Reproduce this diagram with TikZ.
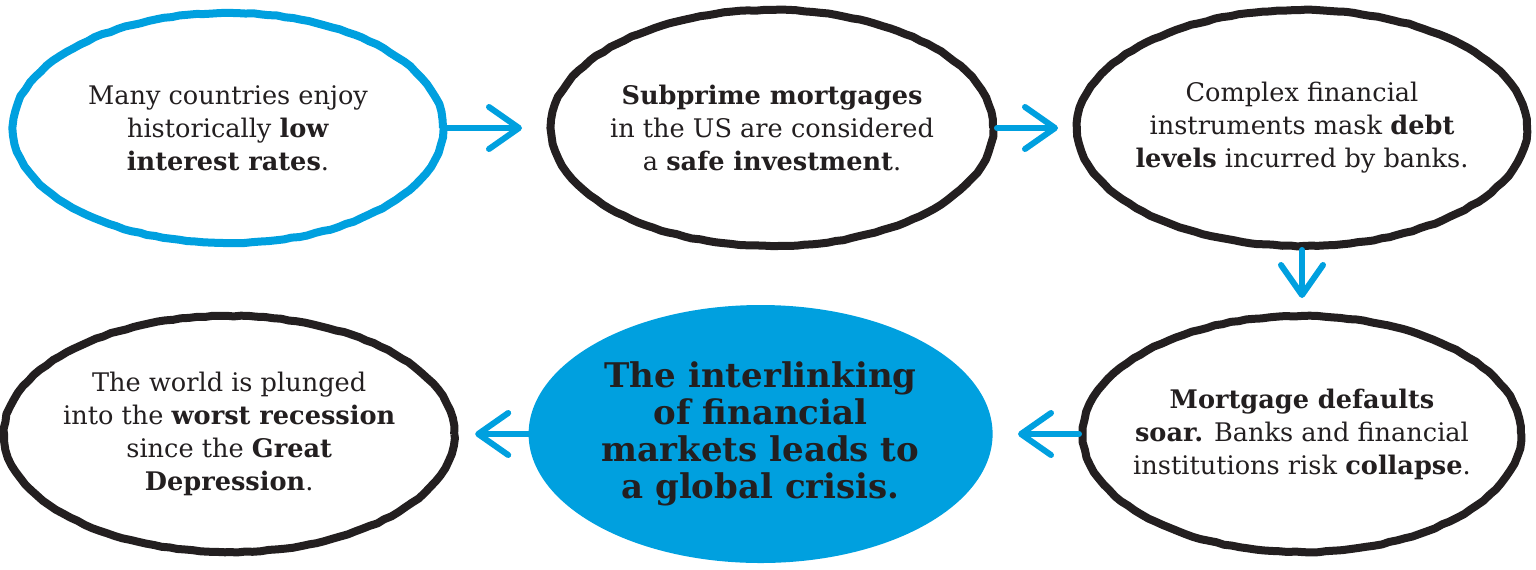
\documentclass[tikz,border=0pt]{standalone}
\usepackage{fontspec}
\setmainfont{DejaVu Serif}
\usetikzlibrary{arrows.meta, positioning, shapes.geometric, decorations.pathmorphing}
\definecolor{crisisblue}{RGB}{0,160,223}
\definecolor{inkblack}{RGB}{35,31,32}

\begin{document}
\begin{tikzpicture}[
  node distance=31pt and 50pt,
  bubble/.style={ellipse, draw=inkblack, line width=4pt, inner sep=-12pt, align=center,
    text=inkblack, font=\fontsize{12.8}{16.5}\selectfont, line join=round,
    decorate, decoration={random steps, segment length=4pt, amplitude=0.25pt}},
  hub/.style={ellipse, fill=crisisblue, inner sep=0pt, align=center, text=inkblack,
    font=\bfseries\fontsize{17}{18.5}\selectfont},
  arr/.style={-{Straight Barb[length=15pt, width=21pt, round]}, line width=3pt,
    crisisblue, line cap=round},
]
  \useasboundingbox (0,0) rectangle (768pt,-284.5pt);

  % top row
  \node[bubble, draw=crisisblue, minimum width=215pt, minimum height=115pt] (rates) at (114pt,-64pt)
    {Many countries enjoy\\historically \textbf{low}\\\textbf{interest rates}.};
  \node[bubble, minimum width=221pt, minimum height=118pt, right=50pt of rates] (subprime)
    {\textbf{Subprime mortgages}\\in the US are considered\\a \textbf{safe investment}.};
  \node[bubble, minimum width=225pt, minimum height=118pt, right=38pt of subprime] (debt)
    {Complex financial\\instruments mask \textbf{debt}\\\textbf{levels} incurred by banks.};

  % bottom row
  \node[bubble, minimum width=219pt, minimum height=118pt, below=31pt of debt] (defaults)
    {\textbf{Mortgage defaults}\\\textbf{soar.} Banks and financial\\institutions risk \textbf{collapse}.};
  \node[hub, minimum width=232pt, minimum height=129pt, left=43pt of defaults] (crisis)
    {The interlinking\\of financial\\markets leads to\\a global crisis.};
  \node[bubble, minimum width=225pt, minimum height=118pt, left=35pt of crisis] (recession)
    {The world is plunged\\into the \textbf{worst recession}\\since the \textbf{Great}\\\textbf{Depression}.};

  \draw[arr, shorten >=12.5pt] (rates) -- (subprime);
  \draw[arr, shorten >=7.5pt] (subprime) -- (debt);
  \draw[arr, shorten >=7pt] (debt) -- (defaults);
  \draw[arr, shorten >=12.5pt] (defaults) -- (crisis);
  \draw[arr, shorten >=8.5pt] (crisis) -- (recession);
\end{tikzpicture}
\end{document}
